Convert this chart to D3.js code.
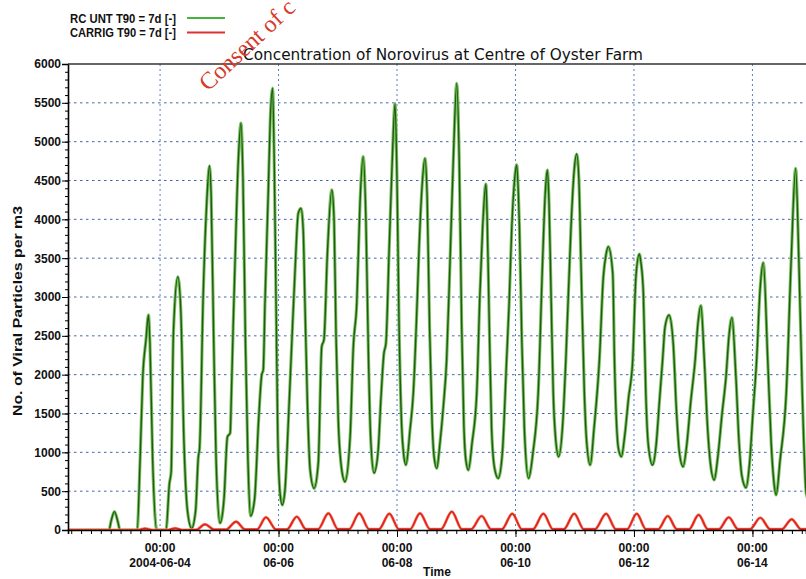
<!DOCTYPE html>
<html>
<head>
<meta charset="utf-8">
<title>Concentration of Norovirus at Centre of Oyster Farm</title>
<script src="https://cdn.jsdelivr.net/npm/d3@7"></script>
<style>
  body { margin: 0; background: #fff; }
  svg { display: block; }
</style>
</head>
<body>
<div id="chart"></div>
<script>

// readings: [hours after 2004-06-04 00:00, viral particles per m3]
var rcUnt = [
  [-37.3,0],[-20.7,0],[-19.8,120],[-18.5,236],[-17.2,120],[-16.2,0],
  [-9.3,0],[-8.1,900],[-7.0,1970],[-5.7,2450],[-4.7,2770],[-4.1,2400],[-3.0,900],[-1.3,0],
  [2.4,0],[3.8,600],[4.5,750],[5.4,2530],[7.2,3260],[8.4,2830],[9.7,1120],[11.1,250],[12.8,20],
  [14.4,250],[15.5,940],[16.0,1050],[17.5,3050],[18.9,4210],[20.0,4690],[20.7,4300],[21.7,2500],[22.7,900],[24.3,90],
  [25.9,400],[27.3,1200],[28.4,1250],[28.9,1750],[29.6,2600],[30.4,3480],[31.7,4760],[32.8,5240],[33.6,4500],[34.6,2400],[35.6,900],[36.7,180],
  [38.3,400],[39.9,1400],[41.2,2000],[41.8,2060],[42.5,2920],[43.9,4420],[44.6,5240],[45.6,5690],[46.3,4635],[47.0,2920],[47.7,1200],[48.6,476],[49.5,322],
  [50.6,515],[52.0,1416],[53.3,2360],[54.7,3350],[56.0,4080],[57.1,4140],[58.0,3860],[58.7,2920],[59.7,1630],[60.8,773],[62.4,537],
  [64.1,862],[65.5,2360],[66.4,2450],[67.8,3566],[69.6,4380],[70.5,3990],[71.3,2490],[72.2,1416],[73.6,773],[74.9,622],
  [77.0,1201],[78.3,2360],[79.7,2920],[81.0,4210],[82.3,4807],[83.4,3990],[84.4,2280],[85.3,1200],[86.7,734],
  [88.3,1000],[89.5,1700],[90.7,2275],[91.5,2400],[92.8,3600],[94.0,4700],[95.2,5490],[96.0,4500],[96.8,2700],[97.9,1330],[98.6,1000],[99.6,837],
  [101.3,1300],[102.6,1760],[104.0,2800],[104.9,3600],[106.1,4400],[107.3,4785],[108.2,4300],[109.2,2600],[110.2,1400],[111.0,950],[112.1,794],
  [113.4,1120],[114.8,1600],[116.1,2190],[117.5,3480],[118.8,4760],[120.2,5750],[121.2,4760],[122.2,2620],[123.1,1330],[123.9,900],[124.9,772],
  [126.4,1120],[128.3,1760],[129.6,3050],[130.7,3900],[132.0,4455],[132.5,4050],[133.4,2620],[134.3,1330],[135.5,800],[137.0,665],
  [138.7,1000],[140.4,2190],[141.4,2900],[142.5,3900],[143.6,4500],[144.5,4700],[145.2,4300],[145.6,3900],[146.6,2400],[147.6,1300],[149.3,665],
  [151.1,1000],[153.2,1760],[155.0,3476],[156.0,4300],[156.9,4635],[157.6,4200],[158.4,3050],[159.3,1760],[160.2,1200],[161.5,944],
  [163.2,1400],[164.4,2190],[166.5,3905],[167.7,4600],[168.8,4841],[169.7,4500],[170.5,3476],[171.9,1760],[172.8,1150],[174.3,837],
  [175.8,1300],[178.0,2190],[179.6,3262],[180.7,3550],[181.6,3648],[183.4,3305],[184.1,2189],[185.0,1330],[185.7,1050],[186.9,944],
  [188.2,1200],[189.8,1700],[191.5,2189],[192.8,3262],[194.2,3553],[194.8,3450],[195.8,3050],[196.8,1760],[197.8,1100],[199.5,837],
  [201.0,1100],[202.3,1650],[203.6,2189],[204.6,2618],[206.2,2768],[207.9,2403],[209.2,1545],[210.4,1000],[211.9,815],
  [213.4,1100],[215.0,1650],[216.8,2189],[217.9,2650],[219.1,2888],[220.5,2189],[221.8,1330],[223.0,850],[224.5,644],
  [226.0,950],[227.7,1500],[229.3,1974],[230.5,2500],[231.7,2734],[233.3,1974],[234.6,1116],[235.7,700],[237.4,545],
  [238.8,850],[240.3,1550],[241.7,2189],[243.1,3100],[244.4,3442],[246.2,2189],[247.6,1116],[248.6,650],[249.6,451],
  [251.2,900],[253.7,1760],[255.7,3476],[257.5,4657],[258.8,3476],[260.2,1760],[261.8,472],[263.3,350]
];

var carrig = [
  [-37.3,0],[-8.9,0],[-6.1,18],[-3.2,0],[3.2,0],[6.1,22],[8.9,0],
  [14.6,2],[18.2,73],[21.9,5],[26.7,5],[30.8,107],[34.4,8],
  [39.3,8],[42.9,163],[47.0,8],[51.4,8],[55.4,172],[59.1,10],
  [64.0,10],[68.2,215],[72.1,10],[76.6,10],[80.7,215],[84.7,10],
  [88.7,10],[92.9,210],[96.8,10],[101.3,10],[105.3,215],[109.4,10],
  [113.8,10],[118.2,236],[122.3,10],[126.0,10],[130.3,180],[134.1,10],
  [138.5,10],[142.7,210],[146.6,10],[151.1,10],[155.3,210],[159.2,10],
  [163.6,10],[167.8,210],[171.7,10],[176.2,10],[180.7,210],[184.7,10],
  [189.2,10],[193.1,210],[196.9,10],[201.8,10],[205.7,180],[209.4,10],
  [214.3,10],[218.2,195],[222.0,10],[226.4,10],[230.4,163],[234.2,10],
  [239.0,10],[243.2,158],[247.2,10],[251.9,10],[255.9,137],[259.7,10],[264.1,10]
];

var seriesNames = ["RC UNT T90 = 7d [-]", "CARRIG T90 = 7d [-]"];
var seriesColors = ["#46b43c", "#de3030"];

var yTicks = [0, 500, 1000, 1500, 2000, 2500, 3000, 3500, 4000, 4500, 5000, 5500, 6000];
var dayTicks = ["2004-06-04", "2004-06-06", "2004-06-08", "2004-06-10", "2004-06-12", "2004-06-14"];
var dayTickLabels = ["2004-06-04", "06-06", "06-08", "06-10", "06-12", "06-14"];

// visible time window, hours relative to 2004-06-04 00:00
var firstDay = new Date(2004, 5, 4);
var startHour = -37.3;
var endHour = 261.7;

window.onload = function() {

  var width = 806,
      height = 579;
  var margin = {top: 64, right: 0, bottom: 49, left: 68};
  var labelFont = "'Liberation Sans', Arial, sans-serif";

  function toDate(h) {
    return new Date(firstDay.getTime() + h * 3600 * 1000);
  }

  var svg = d3.select("#chart").append("svg")
              .attr("width", width)
              .attr("height", height);

  var x = d3.scaleTime()
            .domain([toDate(startHour), toDate(endHour)])
            .range([margin.left, width - margin.right]);

  var y = d3.scaleLinear()
            .domain([0, 6000])
            .range([height - margin.bottom, margin.top]);

  var parseDay = d3.timeParse("%Y-%m-%d");
  var majorDays = dayTicks.map(parseDay);

  // clip for the data lines
  svg.append("clipPath")
      .attr("id", "plot-clip")
    .append("rect")
      .attr("x", margin.left)
      .attr("y", margin.top)
      .attr("width", width - margin.left - margin.right)
      .attr("height", height - margin.top - margin.bottom);

  // dotted grid
  var grid = svg.append("g").attr("class", "grid");
  grid.selectAll("line.h")
      .data(yTicks.filter(function(d) { return d > 0 && d < 6000; }))
    .enter().append("line")
      .attr("class", "h")
      .attr("x1", margin.left)
      .attr("x2", width)
      .attr("y1", function(d) { return y(d); })
      .attr("y2", function(d) { return y(d); })
      .style("stroke", "#4467a8")
      .style("stroke-width", 1)
      .style("stroke-dasharray", "2.5,3.5");

  grid.selectAll("line.v")
      .data(majorDays)
    .enter().append("line")
      .attr("class", "v")
      .attr("x1", function(d) { return x(d); })
      .attr("x2", function(d) { return x(d); })
      .attr("y1", y(6000))
      .attr("y2", y(0))
      .style("stroke", "#5a7fc0")
      .style("stroke-width", 1)
      .style("stroke-dasharray", "2,3");

  // lines
  var line = d3.line()
               .x(function(d) { return x(toDate(d[0])); })
               .y(function(d) { return y(d[1]); })
               .curve(d3.curveMonotoneX);

  var plot = svg.append("g").attr("clip-path", "url(#plot-clip)");

  // green: light halo + dark core, like the scanned trace
  plot.append("path")
      .datum(rcUnt)
      .attr("d", line)
      .style("fill", "none")
      .style("stroke", "#7cc35e")
      .style("stroke-width", 3.2)
      .style("stroke-linejoin", "round");
  plot.append("path")
      .datum(rcUnt)
      .attr("d", line)
      .style("fill", "none")
      .style("stroke", "#1f5a16")
      .style("stroke-width", 1.4)
      .style("stroke-linejoin", "round");

  // red
  plot.append("path")
      .datum(carrig)
      .attr("d", line)
      .style("fill", "none")
      .style("stroke", "#f38a72")
      .style("stroke-width", 3)
      .style("stroke-linejoin", "round");
  plot.append("path")
      .datum(carrig)
      .attr("d", line)
      .style("fill", "none")
      .style("stroke", "#e3221b")
      .style("stroke-width", 1.7)
      .style("stroke-linejoin", "round");

  // y axis: minor ticks every 100, labelled ticks every 500
  svg.append("g")
      .attr("transform", "translate(" + margin.left + ",0)")
      .call(d3.axisLeft(y).tickValues(d3.range(0, 6001, 100)).tickSize(3).tickFormat(""))
      .call(function(g) { g.select(".domain").remove(); });

  var yAxis = svg.append("g")
      .attr("transform", "translate(" + margin.left + ",0)")
      .call(d3.axisLeft(y).tickValues(yTicks).tickSize(6).tickPadding(1).tickFormat(d3.format("d")));
  yAxis.select(".domain").style("stroke-width", 1.6);
  yAxis.selectAll("text")
      .style("font-family", labelFont)
      .style("font-size", "12px")
      .style("font-weight", "bold")
      .style("fill", "#111");

  // x axis: minor ticks every 4 hours, long ticks at 00:00 every 2 days
  svg.append("g")
      .attr("transform", "translate(0," + y(0) + ")")
      .call(d3.axisBottom(x).tickValues(d3.timeHour.every(4).range(x.domain()[0], x.domain()[1])).tickSize(4).tickFormat(""))
      .call(function(g) { g.select(".domain").style("stroke-width", 1.6); });

  svg.append("g")
      .attr("transform", "translate(0," + y(0) + ")")
      .call(d3.axisBottom(x).tickValues(majorDays).tickSize(7).tickFormat(""))
      .call(function(g) { g.select(".domain").remove(); });

  var dayLabels = svg.append("g")
      .selectAll("text")
      .data(majorDays)
    .enter().append("text")
      .attr("text-anchor", "middle")
      .style("font-family", labelFont)
      .style("font-size", "12px")
      .style("font-weight", "bold")
      .style("fill", "#111");
  dayLabels.append("tspan")
      .attr("x", function(d) { return x(d); })
      .attr("y", y(0) + 22)
      .text(d3.timeFormat("%H:%M"));
  dayLabels.append("tspan")
      .attr("x", function(d) { return x(d); })
      .attr("y", y(0) + 36.5)
      .text(function(d, i) { return dayTickLabels[i]; });

  // top border of the plot
  svg.append("line")
      .attr("x1", margin.left)
      .attr("x2", width)
      .attr("y1", y(6000))
      .attr("y2", y(6000))
      .style("stroke", "#333")
      .style("stroke-width", 1.6);

  // axis titles
  svg.append("text")
      .attr("x", 437)
      .attr("y", 576)
      .attr("text-anchor", "middle")
      .style("font-family", labelFont)
      .style("font-size", "12px")
      .style("font-weight", "bold")
      .style("fill", "#111")
      .text("Time");

  svg.append("text")
      .attr("transform", "translate(22,311) rotate(-90)")
      .attr("text-anchor", "middle")
      .attr("textLength", 210)
      .attr("lengthAdjust", "spacingAndGlyphs")
      .style("font-family", labelFont)
      .style("font-size", "13px")
      .style("font-weight", "bold")
      .style("fill", "#111")
      .text("No. of Viral Particles per m3");

  // chart title
  svg.append("text")
      .attr("x", 443)
      .attr("y", 60)
      .attr("text-anchor", "middle")
      .attr("textLength", 400)
      .attr("lengthAdjust", "spacingAndGlyphs")
      .style("font-family", "'DejaVu Sans', Verdana, sans-serif")
      .style("font-size", "15px")
      .style("fill", "#111")
      .text("Concentration of Norovirus at Centre of Oyster Farm");

  // legend
  var legend = svg.append("g")
      .selectAll("g")
      .data(seriesNames)
    .enter().append("g")
      .attr("transform", function(d, i) { return "translate(0," + (18 + i * 14.5) + ")"; });

  legend.append("text")
      .attr("x", 70)
      .attr("y", 4.5)
      .attr("textLength", 106)
      .attr("lengthAdjust", "spacingAndGlyphs")
      .style("font-family", labelFont)
      .style("font-size", "12.5px")
      .style("font-weight", "bold")
      .style("fill", "#111")
      .text(function(d) { return d; });

  legend.append("line")
      .attr("x1", 187)
      .attr("x2", 225)
      .attr("y1", 0)
      .attr("y2", 0)
      .style("stroke", function(d, i) { return seriesColors[i]; })
      .style("stroke-width", 2);

  // red consent stamp over the chart, only its visible start
  svg.append("text")
      .attr("transform", "translate(208,92) rotate(-43)")
      .style("font-family", "'Liberation Serif', 'DejaVu Serif', serif")
      .style("font-size", "24px")
      .style("fill", "#d8392a")
      .text("Consent of c");
};
</script>
</body>
</html>
